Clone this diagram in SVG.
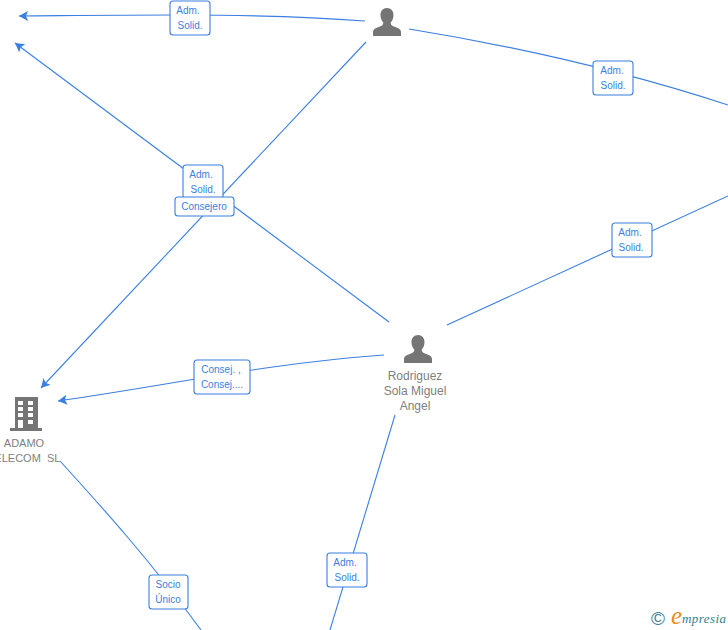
<svg xmlns="http://www.w3.org/2000/svg" width="728" height="630" viewBox="0 0 728 630">
<style>
.c{fill:none;stroke:#3b7fe0;stroke-width:1.1}
.b{fill:#fff;stroke:#3b7fe0;stroke-width:1.1}
.l{font:10px "Liberation Sans",Arial,sans-serif;fill:#3b7fe0;text-anchor:middle}
.n{font:12px "Liberation Sans",Arial,sans-serif;fill:#808080;text-anchor:middle}
.s{font-size:11px}
.i{fill:#757575}
</style>
<defs>
<marker id="a" markerUnits="userSpaceOnUse" markerWidth="12" markerHeight="12" refX="9" refY="5" orient="auto"><path d="M9 5L0 0L2 5L0 10Z" fill="#3b7fe0"/></marker>
<symbol id="p" viewBox="0 0 28 28" overflow="visible"><path d="M14 0c4 0 6.500 3 6.500 7c0 3-1 5.500-2.800 7.500c0 2 .8 3 3.300 4c3.500 1.300 7 2.300 7 5.500v4h-28v-4c0-3.200 3.500-4.200 7-5.500c2.500-1 3.300-2 3.300-4c-1.800-2-2.800-4.500-2.800-7.500c0-4 2.500-7 6.500-7z"/></symbol>
</defs>
<g id="connectors">
<path class="c" d="M365 21C260 13 150 15 19 16" marker-end="url(#a)"/>
<path class="c" d="M389 322L15 43" marker-end="url(#a)"/>
<path class="c" d="M366 42L41 388" marker-end="url(#a)"/>
<path class="c" d="M384 355C270 363 170 385 58 401" marker-end="url(#a)"/>
<path class="c" d="M409 29C520 47 630 73 728 105"/>
<path class="c" d="M447 325L728 196"/>
<path class="c" d="M395 415L330 630"/>
<path class="c" d="M60 461C100 505 150 560 201 630"/>
</g>
<g id="edge-labels">
<g><rect class="b" x="170" y="1" width="40" height="34" rx="3"/><text class="l" x="188" y="14">Adm.</text><text class="l" x="190" y="29">Solid.</text></g>
<g><rect class="b" x="593" y="61" width="40" height="34" rx="3"/><text class="l" x="612" y="74">Adm.</text><text class="l" x="613" y="89">Solid.</text></g>
<g><rect class="b" x="612" y="223" width="40" height="34" rx="3"/><text class="l" x="630" y="236">Adm.</text><text class="l" x="631" y="251">Solid.</text></g>
<g><rect class="b" x="183" y="165" width="40" height="34" rx="3"/><text class="l" x="201" y="178">Adm.</text><text class="l" x="203" y="193">Solid.</text></g>
<g><rect class="b" x="175" y="197" width="59" height="19" rx="3"/><text class="l" x="204" y="210">Consejero</text></g>
<g><rect class="b" x="194" y="360" width="56" height="34" rx="3"/><text class="l" x="221" y="373">Consej. ,</text><text class="l" x="222" y="388">Consej....</text></g>
<g><rect class="b" x="327" y="553" width="40" height="34" rx="3"/><text class="l" x="345" y="566">Adm.</text><text class="l" x="347" y="581">Solid.</text></g>
<g><rect class="b" x="149" y="575" width="39" height="34" rx="3"/><text class="l" x="168" y="588">Socio</text><text class="l" x="168" y="603">Único</text></g>
</g>
<g id="person-top"><use href="#p" class="i" x="373" y="8" width="28" height="28"/></g>
<g id="person-rodriguez"><use href="#p" class="i" x="404" y="335" width="28" height="28"/>
<text class="n" x="415" y="380">Rodriguez</text><text class="n" x="415" y="395">Sola Miguel</text><text class="n" x="415" y="410">Angel</text></g>
<g id="company-adamo">
<path class="i" fill-rule="evenodd" d="M15 397H38V428H42V431H10V428H15ZM18 401V405H23V401ZM28 401V405H33V401ZM18 407V411H23V407ZM28 407V411H33V407ZM18 413V417H23V413ZM28 413V417H33V413ZM18 420V428H23V420ZM28 420V424H33V420Z"/>
<text class="n s" x="24" y="447">ADAMO</text><text class="n s" x="24" y="462" xml:space="preserve">TELECOM  SL</text></g>
<g id="logo">
<text x="658" y="625" font-family="Liberation Sans,sans-serif" font-size="19" fill="#3f7f93" text-anchor="middle">©</text>
<text x="671" y="624" font-family="Liberation Serif,serif" font-style="italic" font-size="25" fill="#f08a1d">e</text>
<text x="682" y="623" font-family="Liberation Serif,serif" font-style="italic" font-size="13" fill="#2f7f8f" textLength="44">mpresia</text>
</g>
</svg>
